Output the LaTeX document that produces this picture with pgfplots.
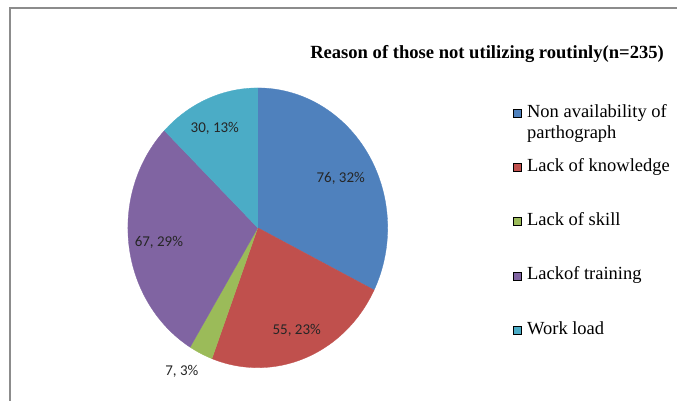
\documentclass[border=0pt]{standalone}
\usepackage{pgfplots}
\usepackage{pgfplotstable}
\pgfplotsset{compat=1.18}
\usepackage{fontspec}
\setmainfont{Liberation Serif}
\newfontfamily\lblfont{Carlito}
\definecolor{pieblue}{HTML}{4F81BD}
\definecolor{piered}{HTML}{C0504D}
\definecolor{piegreen}{HTML}{9BBB59}
\definecolor{piepurple}{HTML}{8064A2}
\definecolor{piecyan}{HTML}{4BACC6}
\definecolor{framegray}{HTML}{8C8C8C}
\definecolor{lblgray}{HTML}{262626}

\pgfplotstableread{
reason value
NonAvailability 76
LackKnowledge 55
LackSkill 7
LackTraining 67
WorkLoad 30
}\piedata

\pgfplotstablegetelem{0}{value}\of\piedata \let\vA\pgfplotsretval
\pgfplotstablegetelem{1}{value}\of\piedata \let\vB\pgfplotsretval
\pgfplotstablegetelem{2}{value}\of\piedata \let\vC\pgfplotsretval
\pgfplotstablegetelem{3}{value}\of\piedata \let\vD\pgfplotsretval
\pgfplotstablegetelem{4}{value}\of\piedata \let\vE\pgfplotsretval
\pgfmathsetmacro\tot{\vA+\vB+\vC+\vD+\vE}
\pgfmathsetmacro\aA{90}
\pgfmathsetmacro\aB{\aA-\vA/\tot*360}
\pgfmathsetmacro\aC{\aB-\vB/\tot*360}
\pgfmathsetmacro\aD{\aC-\vC/\tot*360}
\pgfmathsetmacro\aE{\aD-\vD/\tot*360}
\pgfmathsetmacro\aF{\aE-\vE/\tot*360}

\begin{document}
\begin{tikzpicture}
\begin{axis}[
  scale only axis, width=678pt, height=401pt,
  xmin=0, xmax=678, ymin=0, ymax=401, y dir=reverse,
  hide axis, clip=false,
  legend image code/.code={\fill[#1] (0pt,0pt) rectangle (8pt,8pt);},
  legend style={at={(axis cs:513,104)}, anchor=north west, draw=none, fill=none,
    inner sep=0pt, row sep=39.8pt, column sep=6pt,
    font=\fontsize{18.5}{21}\selectfont,
    cells={anchor=base west}, nodes={inner sep=0pt}},
]
\path (axis cs:0,0) rectangle (axis cs:678,401);
\draw[framegray, line width=1.2pt] (axis cs:10,401) -- (axis cs:10,8) -- (axis cs:678,8);

\addplot[fill=pieblue, draw=pieblue, line width=0.3pt, domain=\aB:\aA, samples=90, forget plot]
  ({258+130*cos(x)},{228-140*sin(x)}) -- (axis cs:258,228) -- cycle;
\addplot[fill=piered, draw=piered, line width=0.3pt, domain=\aC:\aB, samples=70, forget plot]
  ({258+130*cos(x)},{228-140*sin(x)}) -- (axis cs:258,228) -- cycle;
\addplot[fill=piegreen, draw=piegreen, line width=0.3pt, domain=\aD:\aC, samples=20, forget plot]
  ({258+130*cos(x)},{228-140*sin(x)}) -- (axis cs:258,228) -- cycle;
\addplot[fill=piepurple, draw=piepurple, line width=0.3pt, domain=\aE:\aD, samples=80, forget plot]
  ({258+130*cos(x)},{228-140*sin(x)}) -- (axis cs:258,228) -- cycle;
\addplot[fill=piecyan, draw=piecyan, line width=0.3pt, domain=\aF:\aE, samples=40, forget plot]
  ({258+130*cos(x)},{228-140*sin(x)}) -- (axis cs:258,228) -- cycle;

\addlegendimage{fill=pieblue}
\addlegendentry{\parbox[t]{150pt}{\raggedright Non availability of\newline parthograph}}
\addlegendimage{fill=piered}
\addlegendentry{Lack of knowledge}
\addlegendimage{fill=piegreen}
\addlegendentry{Lack of skill}
\addlegendimage{fill=piepurple}
\addlegendentry{Lackof training}
\addlegendimage{fill=piecyan}
\addlegendentry{Work load}

\node[anchor=base west, font=\bfseries\fontsize{18.6}{21}\selectfont] at (axis cs:307,59)
  {Reason of those not utilizing routinly(n=235)};

\begin{scope}[every node/.style={font=\lblfont\fontsize{15}{18}\selectfont, text=lblgray}]
\node at (axis cs:341,179) {76, 32\%};
\node at (axis cs:297,331) {55, 23\%};
\node at (axis cs:182,372) {7, 3\%};
\node at (axis cs:159,243) {67, 29\%};
\node at (axis cs:215,128) {30, 13\%};
\end{scope}
\end{axis}
\end{tikzpicture}
\end{document}
